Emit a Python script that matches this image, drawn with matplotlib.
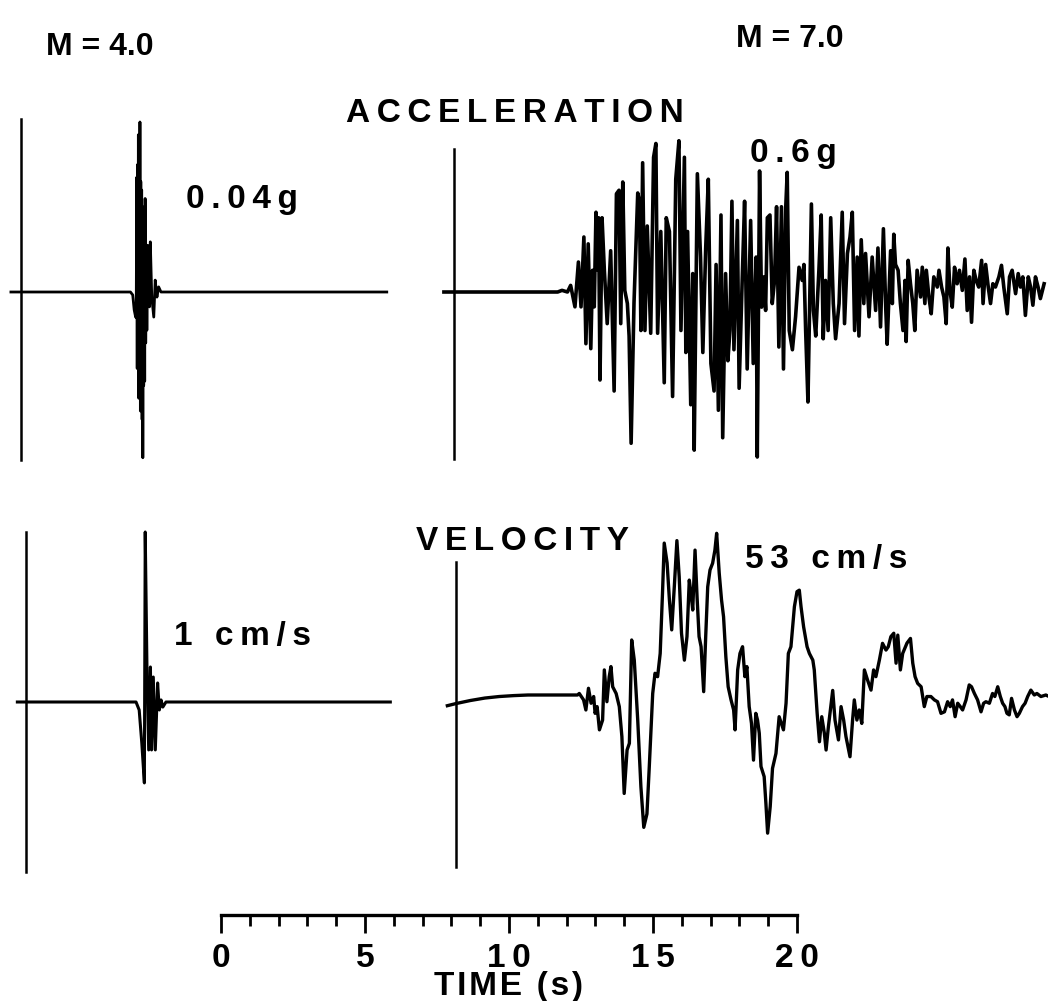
import numpy as np
import matplotlib.pyplot as plt

W, H, DPI = 1048, 1001, 100
PX_PER_S = 28.8   # horizontal scale shared by all traces and the time bar

# ---- M = 4.0, acceleration (g) ----
m4_acc_t = [-0.35, 3.80, 3.88, 3.93, 3.98, 4.00, 4.02, 4.035, 4.05, 4.06, 4.075,
            4.09, 4.105, 4.12, 4.13, 4.145, 4.16, 4.175, 4.19, 4.205, 4.22, 4.23,
            4.245, 4.26, 4.28, 4.295, 4.31, 4.33, 4.35, 4.37, 4.40, 4.46, 4.49,
            4.54, 4.61, 4.66, 4.72, 4.78, 4.86, 12.7]
m4_acc_g = [0, 0, -0.0007, -0.0042, -0.0059, -0.006, 0.027, -0.018, 0.030, -0.016, 0.037,
            -0.025, 0.032, -0.020, 0.040, -0.028, 0.026, -0.024, 0.024, -0.030, 0.018, -0.039,
            0.020, -0.022, 0.016, -0.021, 0.022, -0.012, 0.008, -0.009, 0.011, -0.0035, 0.0118,
            -0.0012, -0.0059, 0.0028, -0.0012, 0.0012, 0, 0]

# ---- M = 4.0, velocity (cm/s) ----
m4_vel_t = [-0.3, 3.82, 3.93, 4.02, 4.11, 4.14, 4.20, 4.26, 4.32, 4.36, 4.42,
            4.49, 4.57, 4.63, 4.69, 4.75, 4.86, 12.65]
m4_vel = [0, 0, -0.047, -0.24, -0.476, 1.0, 0.206, -0.282, 0.206, -0.282, 0.147,
          -0.282, 0.112, -0.047, 0.012, -0.03, 0, 0]

# ---- M = 7.0, acceleration (g) ----
m7_acc_t = [-0.35, 3.60, 3.75, 3.94, 4.05, 4.20, 4.32, 4.41, 4.51, 4.58, 4.66, 4.75,
            4.81, 4.87, 4.93, 4.99, 5.02, 5.07, 5.14, 5.22, 5.32, 5.44, 5.56, 5.64,
            5.73, 5.79, 5.86, 5.93, 6.02, 6.08, 6.15, 6.25, 6.38, 6.44, 6.49, 6.55,
            6.63, 6.71, 6.83, 6.93, 7.01, 7.07, 7.18, 7.30, 7.37, 7.48, 7.59, 7.70,
            7.81, 7.88, 8.00, 8.05, 8.11, 8.22, 8.29, 8.34, 8.45, 8.56, 8.64, 8.74,
            8.83, 8.92, 9.03, 9.10, 9.18, 9.27, 9.33, 9.43, 9.51, 9.58, 9.65, 9.72,
            9.84, 9.90, 10.01, 10.09, 10.18, 10.30, 10.39, 10.49, 10.53, 10.61, 10.68,
            10.76, 10.82, 10.88, 10.97, 11.05, 11.13, 11.20, 11.28, 11.37, 11.44, 11.52,
            11.57, 11.64, 11.75, 11.86, 11.98, 12.09, 12.15, 12.21, 12.29, 12.36, 12.41,
            12.48, 12.56, 12.67, 12.75, 12.82, 12.90, 12.99, 13.08, 13.17, 13.25, 13.37,
            13.48, 13.56, 13.66, 13.75, 13.83, 13.91, 14.00, 14.06, 14.14, 14.23, 14.29,
            14.41, 14.52, 14.64, 14.72, 14.81, 14.91, 14.99, 15.04, 15.16, 15.22, 15.27,
            15.33, 15.42, 15.50, 15.59, 15.66, 15.70, 15.77, 15.85, 15.93, 16.00, 16.08,
            16.20, 16.26, 16.35, 16.40, 16.49, 16.57, 16.66, 16.78, 16.84, 16.93, 17.01,
            17.09, 17.15, 17.22, 17.30, 17.38, 17.47, 17.55, 17.65, 17.74, 17.82, 17.90,
            17.97, 18.05, 18.13, 18.22, 18.32, 18.37, 18.46, 18.55, 18.63, 18.71, 18.80,
            18.92, 19.01, 19.09, 19.21, 19.29, 19.38, 19.50, 19.59, 19.67, 19.75, 19.84,
            19.94, 20.02, 20.10, 20.19, 20.28, 20.36, 20.49]
m7_acc_g = [0, 0, 0.006, 0.0, 0.024, -0.054, 0.109, -0.054, 0.20, -0.188, 0.175, -0.206,
            0.079, -0.054, 0.29, 0.08, 0.27, -0.32, 0.27, 0.08, -0.115, 0.15, -0.36, 0.357,
            0.37, -0.115, 0.40, 0.006, -0.042, -0.16, -0.55, -0.04, 0.36, 0.33, -0.14, 0.47,
            -0.14, 0.24, -0.15, 0.49, 0.54, -0.15, 0.22, -0.33, 0.27, 0.22, -0.38, 0.41,
            0.55, -0.14, 0.49, -0.22, 0.22, -0.41, 0.067, -0.575, 0.43, 0.127, -0.22, 0.16,
            0.41, -0.26, -0.36, 0.10, -0.43, 0.28, -0.53, 0.067, -0.25, -0.14, 0.33, -0.21,
            0.26, -0.35, 0.055, 0.33, -0.28, 0.26, -0.26, 0.127, -0.60, 0.44, -0.055,
            0.055, -0.067, 0.27, 0.28, -0.042, 0.042, 0.31, -0.20, 0.31, -0.28, 0.31,
            0.435, -0.14, -0.21, -0.09, 0.09, 0.042, 0.10, -0.14, -0.40, 0.018, 0.32,
            -0.067, -0.16, 0.079, 0.28, -0.17, 0.042, -0.14, 0.27, -0.042, -0.17, -0.042,
            0.29, -0.115, 0.14, 0.20, 0.29, -0.14, 0.127, -0.16, 0.19, -0.042, 0.14,
            -0.09, 0.127, -0.067, 0.16, -0.127, 0.23, -0.055, -0.19, 0.15, -0.042, 0.21,
            0.10, 0.079, -0.042, -0.14, 0.042, -0.18, 0.115, 0.03, -0.042, -0.14, 0.079,
            -0.018, 0.09, -0.042, 0.079, -0.018, -0.079, 0.055, 0.018, 0.079, 0.018, -0.018,
            -0.115, 0.16, 0.006, -0.055, 0.09, 0.03, 0.079, 0.006, 0.12, -0.067, 0.055,
            -0.11, 0.079, 0.042, 0.018, 0.115, -0.042, 0.10, 0.018, -0.042, 0.03, 0.018,
            0.055, 0.097, 0.018, -0.079, 0.055, 0.079, -0.006, 0.067, 0.018, 0.055, -0.085,
            0.055, 0.018, -0.048, 0.055, 0.018, -0.024, 0.03]

# ---- M = 7.0, velocity (cm/s) ----
m7_vel_t = [-0.3, 0.0, 0.5, 1.0, 1.5, 2.0, 2.5, 3.65, 4.22, 4.28, 4.43, 4.51, 4.60,
            4.69, 4.78, 4.83, 4.90, 4.98, 5.09, 5.15, 5.24, 5.32, 5.38, 5.44, 5.56,
            5.67, 5.76, 5.84, 5.94, 6.02, 6.10, 6.19, 6.31, 6.42, 6.52, 6.63, 6.71,
            6.83, 6.91, 7.00, 7.09, 7.17, 7.23, 7.33, 7.41, 7.49, 7.58, 7.67, 7.75,
            7.83, 7.93, 8.02, 8.10, 8.16, 8.22, 8.30, 8.37, 8.44, 8.51, 8.60, 8.67,
            8.74, 8.82, 8.91, 8.99, 9.05, 9.14, 9.22, 9.29, 9.37, 9.45, 9.55, 9.64,
            9.69, 9.78, 9.86, 9.95, 10.03, 10.10, 10.18, 10.26, 10.33, 10.41, 10.47,
            10.53, 10.59, 10.70, 10.76, 10.82, 10.91, 10.99, 11.11, 11.22, 11.37, 11.46,
            11.54, 11.63, 11.75, 11.84, 11.92, 11.98, 12.07, 12.19, 12.27, 12.39, 12.44,
            12.54, 12.62, 12.70, 12.79, 12.85, 12.93, 13.08, 13.16, 13.28, 13.37, 13.46,
            13.54, 13.68, 13.77, 13.83, 13.92, 14.00, 14.09, 14.18, 14.29, 14.41, 14.50,
            14.58, 14.70, 14.81, 14.93, 15.01, 15.10, 15.20, 15.28, 15.34, 15.43, 15.51,
            15.66, 15.78, 15.86, 15.94, 16.03, 16.15, 16.26, 16.35, 16.49, 16.61, 16.72,
            16.84, 16.96, 17.07, 17.16, 17.24, 17.33, 17.42, 17.51, 17.59, 17.71, 17.82,
            17.90, 18.00, 18.11, 18.23, 18.32, 18.40, 18.52, 18.63, 18.71, 18.81, 18.90,
            18.98, 19.06, 19.13, 19.21, 19.29, 19.39, 19.48, 19.56, 19.67, 19.76, 19.85,
            19.96, 20.08, 20.17, 20.31, 20.48, 20.59]
m7_vel = [-3.5, -2.8, -1.8, -1.0, -0.5, -0.2, 0, 0, 0, 0.5, -1.6, -4.9, 2.2,
          -2.7, -0.5, -6.0, -3.8, -11.4, -8.2, 8.2, -2.2, 6.0, 9.3, 2.7, 0.5,
          -3.8, -13.6, -32.2, -18.0, -15.8, 18.0, 11.4, -8.2, -30.0, -43.3, -38.9, -23.7,
          0.5, 7.1, 6.0, 13.6, 33.3, 49.7, 43.2, 31.1, 21.3, 35.4, 50.5, 38.7,
          20.2, 11.4, 19.1, 37.6, 33.2, 27.8, 47.4, 32.1, 19.1, 15.8, 1.1, 19.1,
          35.4, 40.9, 43.1, 47.4, 52.9, 39.8, 31.1, 25.6, 12.5, 2.7, -1.6, -4.9,
          -11.4, 8.2, 13.6, 15.8, 6.0, 9.3, -3.8, -9.3, -21.3, -6.0, -8.2,
          -12.5, -23.4, -26.7, -35.4, -45.2, -36.5, -24.0, -19.1, -7.1, -11.4, -2.7,
          13.6, 15.8, 28.9, 33.8, 34.3, 28.9, 22.3, 15.8, 13.6, 11.4, 8.2,
          -6.0, -15.3, -7.1, -12.5, -18.0, -10.4, 1.5, -8.2, -14.7, -3.8, -8.2,
          -13.6, -20.2, -8.2, -1.6, -8.2, -4.9, -9.3, 8.2, 4.9, 1.6, 8.2,
          6.0, 11.4, 16.9, 14.7, 15.8, 19.1, 20.2, 10.4, 19.6, 8.2, 13.6,
          17.0, 18.5, 10.4, 6.0, 3.8, 2.7, -3.8, -0.5, -0.5, -1.6, -2.2,
          -6.0, -5.5, -2.2, -3.8, -1.6, -7.1, -2.7, -3.8, -4.9, -1.6, 3.3,
          2.7, 0.5, -1.6, -5.5, -2.7, -2.2, -2.7, 0.5, -0.5, 2.7, -0.5,
          -2.7, -3.8, -6.0, -6.5, -1.1, -4.9, -7.1, -6.0, -3.8, -2.7, -0.5,
          1.6, 0, 0.5, -0.5, 0, -0.5]

time_ticks = [0, 5, 10, 15, 20]

plt.rcParams['font.family'] = ['Liberation Sans', 'DejaVu Sans']
plt.rcParams['font.weight'] = 'bold'
FS = 24


def spaced(s, sp='\u2009'):
    # the original lettering is widely tracked
    return sp.join(s)


fig = plt.figure(figsize=(W / DPI, H / DPI), dpi=DPI)


def make_panel(x0, y0, ppu, top, bottom):
    """x0, y0: pixel of time zero on the baseline; ppu: pixels per unit."""
    left, right = x0 - 25, min(x0 + 595, W)
    half = 200
    ax = fig.add_axes([left / W, 1 - (y0 + half) / H, (right - left) / W, 2 * half / H])
    ax.set_xlim((left - x0) / PX_PER_S, (right - x0) / PX_PER_S)
    ax.set_ylim(-half / ppu, half / ppu)
    ax.patch.set_visible(False)
    for s in ['top', 'right', 'bottom']:
        ax.spines[s].set_visible(False)
    ax.spines['left'].set_position(('data', 0))
    ax.spines['left'].set_bounds(-(bottom - y0) / ppu, (y0 - top) / ppu)
    ax.spines['left'].set_linewidth(1.8)
    ax.set_xticks([])
    ax.set_yticks([])
    return ax


ax = make_panel(21, 292, 170 / 0.04, 119, 460)
ax.plot(m4_acc_t, m4_acc_g, color='black', lw=2.0, clip_on=False)

ax = make_panel(454, 292, 165 / 0.6, 149, 459)
ax.plot(m7_acc_t, m7_acc_g, color='black', lw=2.6, clip_on=False)

ax = make_panel(26, 702, 170 / 1.0, 532, 872)
ax.plot(m4_vel_t, m4_vel, color='black', lw=2.2, clip_on=False)

ax = make_panel(456, 695, 162 / 53, 562, 867)
ax.plot(m7_vel_t, m7_vel, color='black', lw=2.4, clip_on=False)

# time scale bar
sb = fig.add_axes([221 / W, 1 - 915 / H, 576 / W, 0.0001])
sb.set_xlim(0, 20)
for s in ['top', 'left', 'right']:
    sb.spines[s].set_visible(False)
sb.spines['bottom'].set_linewidth(2.4)
sb.set_yticks([])
sb.set_xticks(time_ticks)
sb.set_xticklabels([spaced(str(v)) for v in time_ticks])
sb.set_xticks(np.arange(0, 21, 1), minor=True)
sb.tick_params(which='major', length=13, width=2.0, pad=7, labelsize=FS)
sb.tick_params(which='minor', length=8, width=2.0)
sb.set_xlabel('\u200a'.join('TIME (s)'), fontsize=FS, fontweight='bold', labelpad=-2)


def label(x, y, s, fs=FS):
    fig.text(x / W, 1 - y / H, s, ha='center', va='baseline', fontsize=fs, fontweight='bold')


label(100, 55, 'M = 4.0', 23)
label(790, 47, 'M = 7.0', 23)
label(515, 122, spaced('ACCELERATION'))
label(242, 208, spaced('0.04g'))
label(793, 162, spaced('0.6g'))
label(522, 550, spaced('VELOCITY'))
label(242, 645, spaced('1 cm/s'))
label(826, 568, spaced('53 cm/s'))

fig.savefig('out.png', dpi=DPI)
